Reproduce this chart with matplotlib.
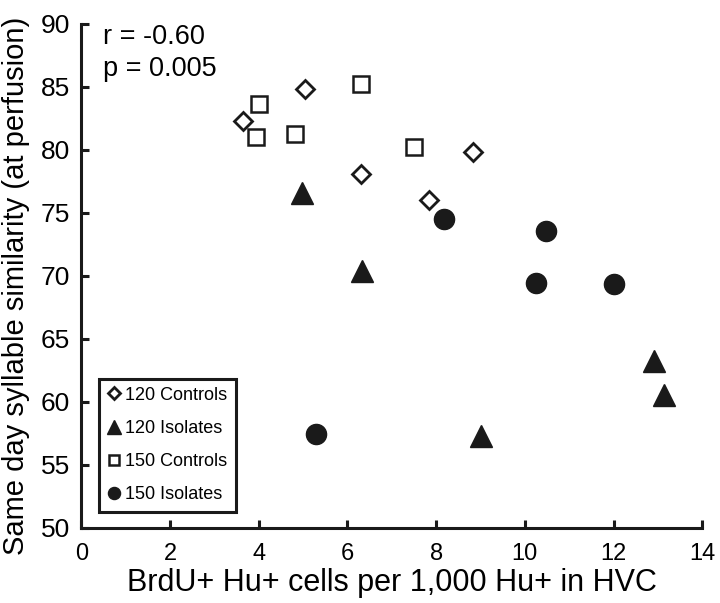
import matplotlib
matplotlib.use("Agg")
import matplotlib.pyplot as plt

plt.rcParams['font.family'] = ['Liberation Sans', 'DejaVu Sans']

c120_x = [3.65, 5.04, 6.31, 7.84, 8.84]
c120_y = [82.3, 84.8, 78.1, 76.0, 79.8]
i120_x = [4.97, 6.33, 9.01, 12.92, 13.14]
i120_y = [76.6, 70.4, 57.25, 63.25, 60.55]
c150_x = [3.95, 4.01, 4.81, 6.30, 7.50]
c150_y = [81.0, 83.65, 81.3, 85.2, 80.2]
i150_x = [5.29, 8.18, 10.25, 10.48, 12.01]
i150_y = [57.44, 74.52, 69.47, 73.57, 69.34]

labels = ["120 Controls", "120 Isolates", "150 Controls", "150 Isolates"]
xticks = [0, 2, 4, 6, 8, 10, 12, 14]
yticks = [50, 55, 60, 65, 70, 75, 80, 85, 90]

fig = plt.figure(figsize=(7.2, 6.03), dpi=100)
ax = fig.add_axes([0.1129, 0.1249, 0.8625, 0.8353])

col = '#1a1a1a'
ax.plot(c120_x, c120_y, linestyle='none', marker='D', ms=9.6, mfc='white', mec=col, mew=2.0, label=labels[0])
ax.plot(i120_x, i120_y, linestyle='none', marker='^', ms=16.5, mfc=col, mec=col, mew=1.0, label=labels[1])
ax.plot(c150_x, c150_y, linestyle='none', marker='s', ms=12, mfc='white', mec=col, mew=1.8, label=labels[2])
ax.plot(i150_x, i150_y, linestyle='none', marker='o', ms=14.5, mfc=col, mec=col, mew=1.0, label=labels[3])

ax.set_xlim(0, 14)
ax.set_ylim(50, 90)
ax.set_xticks(xticks)
ax.set_yticks(yticks)
ax.spines['top'].set_visible(False)
ax.spines['right'].set_visible(False)
for s in ['left', 'bottom']:
    ax.spines[s].set_linewidth(2.2)
    ax.spines[s].set_color(col)
ax.tick_params(axis='both', direction='in', length=6, width=2.2, color=col)
ax.tick_params(axis='y', labelsize=19, pad=8)
ax.tick_params(axis='x', labelsize=17, pad=11)

ax.set_xlabel("BrdU+ Hu+ cells per 1,000 Hu+ in HVC", fontsize=22, labelpad=2)
ax.set_ylabel("Same day syllable similarity (at perfusion)", fontsize=21)
ax.yaxis.set_label_coords(-0.083, 0.48)

ax.text(0.035, 1.0, "r = -0.60", transform=ax.transAxes, fontsize=19.5, va='top', ha='left')
ax.text(0.035, 0.937, "p = 0.005", transform=ax.transAxes, fontsize=19.5, va='top', ha='left')

leg = ax.legend(loc='lower left', bbox_to_anchor=(0.029, 0.032), borderaxespad=0,
                fontsize=13, markerscale=0.6, handlelength=0.7, handletextpad=0.3,
                labelspacing=0.9, borderpad=0.45, fancybox=False, framealpha=1,
                edgecolor=col)
leg.get_frame().set_linewidth(2.2)

fig.savefig("out.png", dpi=100)
